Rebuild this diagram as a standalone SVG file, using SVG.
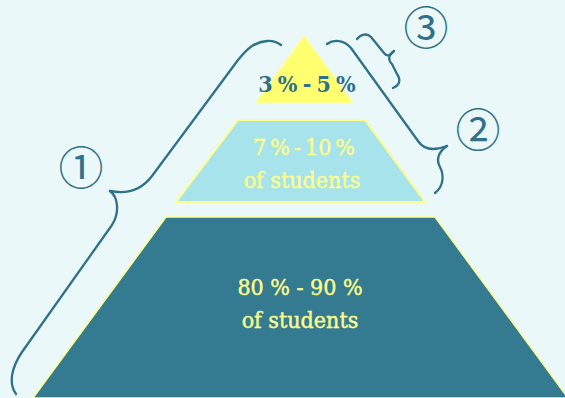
<svg xmlns="http://www.w3.org/2000/svg" width="565" height="398" viewBox="0 0 565 398">
<style>
.brace{fill:none;stroke:#2f7189;stroke-width:2.3;stroke-linecap:round;stroke-linejoin:round}
.lbl{font-family:"DejaVu Serif","Noto Sans CJK JP",serif;fill:#2f7189;text-anchor:middle}
.pct{font-family:"DejaVu Serif Condensed","DejaVu Serif",serif;font-stretch:condensed;font-size:23px;text-anchor:middle;fill:#ffff8c;stroke:#ffff8c;stroke-width:0.4}
</style>
<rect width="565" height="398" fill="#ebf8f9"/>
<g id="level1">
<polygon points="166,217 435,217 568,398 33,398" fill="#347b91" stroke="#ffff8c" stroke-width="1.5"/>
<text class="pct" x="300" y="295">80 % - 90 %</text>
<text class="pct" x="300" y="328">of students</text>
</g>
<g id="level2">
<polygon points="238,120 365,120 425,202 176,202" fill="#a6e3ea" stroke="#ffff8c" stroke-width="2"/>
<text class="pct" x="304" y="155" style="word-spacing:-2.5px">7 % - 10 %</text>
<text class="pct" x="302" y="188">of students</text>
</g>
<g id="level3">
<polygon points="304,36 256,103 353,103" fill="#ffff70" stroke="#ffff99" stroke-width="1.5"/>
<text class="pct" x="307" y="92" style="fill:#2f6f87;stroke:none;font-weight:bold;font-size:23px;word-spacing:-2px">3 % - 5 %</text>
</g>
<g id="connectors">
<path class="brace" d="M281,45 C273,39 262,40 252,46 C246,50 243,54 238,60 L152,176 C143,188 130,195 110,191"/>
<path class="brace" d="M110,191 C118,197 120,212 112,225 L22,352 C12,367 8,383 16,394"/>
<path class="brace" d="M327,44 C334,39 344,40 351,48 L418,141 C424,150 434,151 447,146"/>
<path class="brace" d="M447,146 C438,152 436,160 440,167 C444,175 444,186 435,193"/>
<path class="brace" d="M357,39 C361,34 367,33 371,37 L384,53 C387,57 390,56 394,51"/>
<path class="brace" d="M394,51 C388,55 388,60 392,64 L397,74 C401,80 400,85 393,88"/>
</g>
<g id="label1"><text class="lbl" x="81" y="185" font-size="45">①</text></g>
<g id="label2"><text class="lbl" x="478" y="147" font-size="45">②</text></g>
<g id="label3"><text class="lbl" x="426" y="45" font-size="45">③</text></g>
</svg>
